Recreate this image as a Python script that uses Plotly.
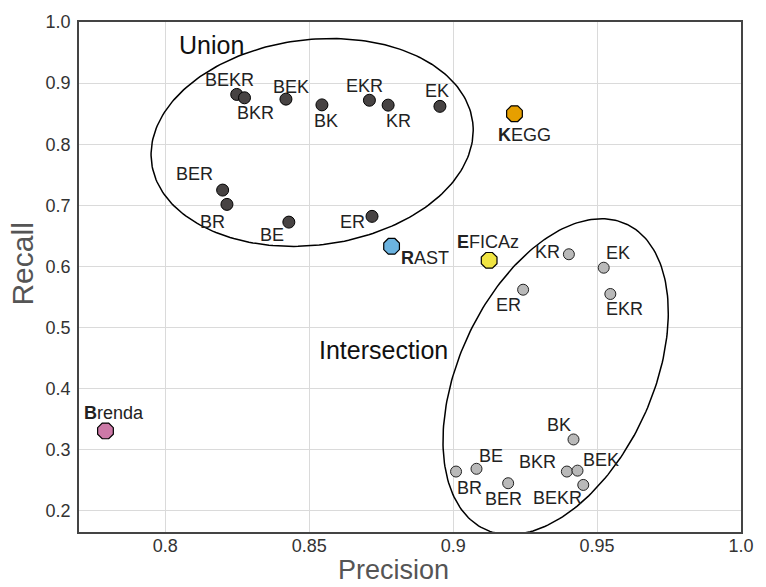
import numpy as np
import plotly.graph_objects as go

# ---------------- data ----------------
union_labels = ["BEKR", "BKR", "BEK", "BK", "EKR", "KR", "EK", "BER", "BR", "BE", "ER"]
union_precision = [0.8248, 0.8275, 0.8419, 0.8544, 0.8709, 0.8774, 0.8954, 0.8199, 0.8214, 0.8429, 0.8718]
union_recall = [0.8815, 0.876, 0.8738, 0.8644, 0.872, 0.864, 0.862, 0.725, 0.7016, 0.6726, 0.682]

inter_labels = ["KR", "EK", "EKR", "ER", "BK", "BE", "BR", "BER", "BKR", "BEK", "BEKR"]
inter_precision = [0.9402, 0.9523, 0.9546, 0.9243, 0.9418, 0.9081, 0.901, 0.9191, 0.9395, 0.9432, 0.9452]
inter_recall = [0.620, 0.598, 0.555, 0.562, 0.317, 0.269, 0.2645, 0.2454, 0.2645, 0.266, 0.2426]

db_names = ["KEGG", "RAST", "EFICAz", "Brenda"]
db_precision = [0.9213, 0.8786, 0.9125, 0.7792]
db_recall = [0.850, 0.633, 0.610, 0.331]

x_tickvals = [0.8, 0.85, 0.9, 0.95, 1.0]
x_ticktext = ["0.8", "0.85", "0.9", "0.95", "1.0"]
y_tickvals = [0.2, 0.3, 0.4, 0.5, 0.6, 0.7, 0.8, 0.9, 1.0]
y_ticktext = ["0.2", "0.3", "0.4", "0.5", "0.6", "0.7", "0.8", "0.9", "1.0"]

# ---------------- layout constants ----------------
W, H = 766, 587
M = dict(l=79, r=14, t=21, b=55)
XR = [0.77, 1.0]
YR = [0.1656, 1.0]
px_x = (W - M["l"] - M["r"]) / (XR[1] - XR[0])
px_y = (H - M["t"] - M["b"]) / (YR[1] - YR[0])

FONT = "Liberation Sans, Arial, Helvetica, sans-serif"
LABEL_SIZE = 18

# label offsets in pixels (dx right, dy up)
union_off = {"BEKR": (-7, 14), "BKR": (11, -15), "BEK": (5, 12), "BK": (4, -16),
             "EKR": (-5, 14), "KR": (10, -16), "EK": (-3, 15), "BER": (-28, 16),
             "BR": (-14, -18), "BE": (-17, -13), "ER": (-20, -6)}
inter_off = {"KR": (-21, 2), "EK": (14, 15), "EKR": (14, -15), "ER": (-15, -15),
             "BK": (-14, 14), "BE": (15, 13), "BR": (13, -16), "BER": (-5, -16),
             "BKR": (-29, 10), "BEK": (23, 11), "BEKR": (-26, -13)}
db_off = {"KEGG": (10, -21), "RAST": (33, -12), "EFICAz": (-1, 18), "Brenda": (9, 18)}
db_colors = {"KEGG": "#e69f00", "RAST": "#6bb3e0", "EFICAz": "#f0e442", "Brenda": "#cc79a7"}


def ellipse(cx, cy, a_px, b_px, theta_deg, n=240):
    t = np.linspace(0, 2 * np.pi, n)
    th = np.radians(theta_deg)
    dx = a_px * np.cos(t) * np.cos(th) - b_px * np.sin(t) * np.sin(th)
    dy = a_px * np.cos(t) * np.sin(th) + b_px * np.sin(t) * np.cos(th)
    return cx + dx / px_x, cy + dy / px_y


fig = go.Figure()

# ellipses
ux, uy = ellipse(0.8510, 0.803, 164.5, 103.0, 7)
ix, iy = ellipse(0.9356, 0.4197, 169, 98, 64.5)
for ex, ey in [(ux, uy), (ix, iy)]:
    fig.add_trace(go.Scatter(x=ex, y=ey, mode="lines", line=dict(color="black", width=1.5),
                             hoverinfo="skip", showlegend=False))

fig.add_trace(go.Scatter(x=union_precision, y=union_recall, mode="markers",
                         marker=dict(size=12, color="#474343", line=dict(color="black", width=1)),
                         text=union_labels, showlegend=False))
fig.add_trace(go.Scatter(x=inter_precision, y=inter_recall, mode="markers",
                         marker=dict(size=11, color="#b9b9b9", line=dict(color="#222", width=1)),
                         text=inter_labels, showlegend=False))
fig.add_trace(go.Scatter(x=db_precision, y=db_recall, mode="markers",
                         marker=dict(size=17, symbol="octagon",
                                     color=[db_colors[n] for n in db_names],
                                     line=dict(color="black", width=1.2)),
                         text=db_names, showlegend=False))

ann = []
for labs, xs, ys, off in [(union_labels, union_precision, union_recall, union_off),
                          (inter_labels, inter_precision, inter_recall, inter_off)]:
    for lab, x, y in zip(labs, xs, ys):
        dx, dy = off[lab]
        ann.append(dict(x=x, y=y, text=lab, showarrow=False, xshift=dx, yshift=dy,
                        font=dict(family=FONT, size=LABEL_SIZE, color="#222")))
for lab, x, y in zip(db_names, db_precision, db_recall):
    dx, dy = db_off[lab]
    ann.append(dict(x=x, y=y, text="<b>" + lab[0] + "</b>" + lab[1:], showarrow=False,
                    xshift=dx, yshift=dy, font=dict(family=FONT, size=LABEL_SIZE, color="#222")))

ann.append(dict(x=0.8162, y=0.962, text="Union", showarrow=False,
                font=dict(family=FONT, size=25, color="#111")))
ann.append(dict(x=0.8759, y=0.464, text="Intersection", showarrow=False,
                font=dict(family=FONT, size=25, color="#111")))

# axis titles
ann.append(dict(xref="paper", yref="paper", x=0.4755, y=-0.1075, text="Precision",
                showarrow=False, xanchor="center", yanchor="bottom",
                font=dict(family=FONT, size=27, color="#555")))
ann.append(dict(xref="paper", yref="paper", x=-0.086, y=0.5245, text="Recall",
                showarrow=False, xanchor="center", yanchor="middle", textangle=-90,
                font=dict(family=FONT, size=30, color="#555")))

fig.update_layout(
    width=W, height=H, margin=M,
    paper_bgcolor="white", plot_bgcolor="white",
    annotations=ann,
    font=dict(family=FONT, color="#333"),
    xaxis=dict(range=XR, tickvals=x_tickvals, ticktext=x_ticktext,
               showgrid=True, gridcolor="#dadada", gridwidth=1, zeroline=False,
               showline=True, linecolor="#444", linewidth=1.5, mirror=True,
               ticks="", ticklabelstandoff=-3, tickfont=dict(size=18, color="#333")),
    yaxis=dict(range=YR, tickvals=y_tickvals, ticktext=y_ticktext,
               showgrid=True, gridcolor="#dadada", gridwidth=1, zeroline=False,
               showline=True, linecolor="#444", linewidth=1.5, mirror=True,
               ticks="outside", ticklen=3, tickcolor="rgba(0,0,0,0)",
               tickfont=dict(size=18, color="#333")),
)

fig.write_html("out.html")
